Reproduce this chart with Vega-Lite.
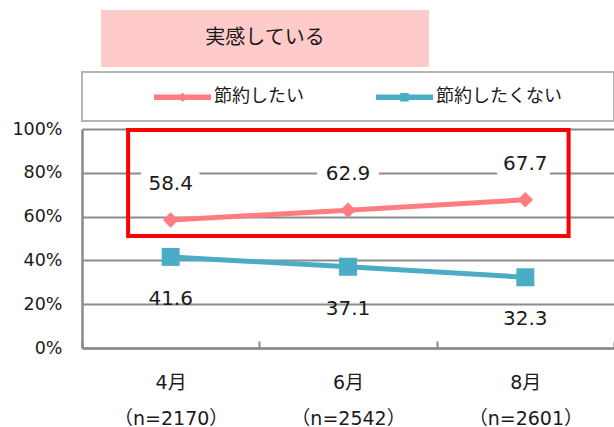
{
  "$schema": "https://vega.github.io/schema/vega-lite/v6.json",
  "padding": {"left": 11, "top": 10, "right": 0, "bottom": 0},
  "spacing": 4,
  "bounds": "full",
  "config": {
    "font": "DejaVu Sans",
    "view": {"stroke": null}
  },
  "datasets": {
    "main": [
      {"month": "4月|（n=2170）", "series": "節約したい", "value": 58.4},
      {"month": "6月|（n=2542）", "series": "節約したい", "value": 62.9},
      {"month": "8月|（n=2601）", "series": "節約したい", "value": 67.7},
      {"month": "4月|（n=2170）", "series": "節約したくない", "value": 41.6},
      {"month": "6月|（n=2542）", "series": "節約したくない", "value": 37.1},
      {"month": "8月|（n=2601）", "series": "節約したくない", "value": 32.3}
    ]
  },
  "vconcat": [
    {
      "bounds": "flush",
      "spacing": 18,
      "hconcat": [
        {"width": 1, "height": 57, "data": {"values": []}, "mark": "point", "view": {"stroke": null}},
        {
          "width": 328, "height": 57,
          "view": {"fill": "#ffcaca", "stroke": null},
          "data": {"values": [{"label": "実感している"}]},
          "mark": {"type": "text", "font": "Noto Sans CJK JP", "fontSize": 20, "color": "#1a1a1a", "align": "center", "baseline": "middle", "dy": -1},
          "encoding": {"text": {"field": "label", "type": "nominal"}}
        }
      ]
    },
    {
      "bounds": "flush",
      "spacing": 8,
      "vconcat": [
        {
          "width": 532, "height": 49,
          "view": {"fill": "white", "stroke": "#b4b4b4", "strokeWidth": 2},
          "data": {"values": []},
          "mark": "point"
        },
        {
          "width": 532, "height": 219,
          "view": {"stroke": "#d0d0d0", "strokeWidth": 1},
          "data": {"name": "main"},
          "resolve": {"scale": {"x": "independent"}},
          "layer": [
            {
              "layer": [
                {
                  "mark": {"type": "line", "strokeWidth": 5},
                  "encoding": {
                    "color": {
                      "field": "series", "type": "nominal",
                      "scale": {"domain": ["節約したい", "節約したくない"], "range": ["#ff7c80", "#4bacc6"]},
                      "legend": {
                        "title": null,
                        "orient": "none",
                        "legendX": 72,
                        "legendY": 58.5,
                        "direction": "horizontal",
                        "padding": 0,
                        "symbolSize": 3249,
                        "symbolStrokeWidth": 0,
                        "labelOffset": 3,
                        "columnPadding": 72,
                        "labelFont": "Noto Sans CJK JP",
                        "labelFontSize": 18,
                        "labelColor": "#1a1a1a",
                        "labelBaseline": "middle",
                        "encode": {
                          "symbols": {
                            "update": {
                              "shape": {"signal": "datum.value === '節約したい' ? 'M-1,-0.1H1V0.1H-1Z M0,-0.17L0.17,0L0,0.17L-0.17,0Z' : 'M-1,-0.1H1V0.1H-1Z M-0.15,-0.15H0.15V0.15H-0.15Z'"},
                              "fill": {"signal": "scale('color', datum.value)"},
                              "stroke": {"value": "transparent"},
                              "strokeWidth": {"value": 0},
                              "opacity": {"value": 1},
                              "size": {"value": 3249}
                            }
                          }
                        }
                      }
                    }
                  }
                },
                {
                  "transform": [{"filter": "datum.series === '節約したい'"}],
                  "mark": {"type": "point", "shape": "diamond", "filled": true, "size": 240, "opacity": 1},
                  "encoding": {"color": {"field": "series", "type": "nominal"}}
                },
                {
                  "transform": [{"filter": "datum.series === '節約したくない'"}],
                  "mark": {"type": "point", "shape": "square", "filled": true, "size": 324, "opacity": 1},
                  "encoding": {"color": {"field": "series", "type": "nominal"}}
                },
                {
                  "transform": [{"filter": "datum.series === '節約したい'"}],
                  "mark": {"type": "text", "fontSize": 20, "baseline": "alphabetic", "align": "center", "dy": -30, "fill": "white", "stroke": "white", "strokeWidth": 20, "strokeJoin": "round"},
                  "encoding": {"text": {"field": "value", "type": "quantitative", "format": ".1f"}}
                },
                {
                  "transform": [{"filter": "datum.series === '節約したい'"}],
                  "mark": {"type": "text", "fontSize": 20, "baseline": "alphabetic", "align": "center", "dy": -30, "color": "#1a1a1a"},
                  "encoding": {"text": {"field": "value", "type": "quantitative", "format": ".1f"}}
                },
                {
                  "transform": [{"filter": "datum.series === '節約したくない'"}],
                  "mark": {"type": "text", "fontSize": 20, "baseline": "alphabetic", "align": "center", "dy": 48, "color": "#1a1a1a"},
                  "encoding": {"text": {"field": "value", "type": "quantitative", "format": ".1f"}}
                }
              ],
              "encoding": {
                "x": {
                  "field": "month", "type": "nominal", "sort": null, "title": null,
                  "scale": {"type": "band", "paddingInner": 0, "paddingOuter": 0},
                  "axis": {
                    "labelExpr": "datum.value ? split(datum.value, '|') : ''",
                    "labelAngle": 0,
                    "labelFont": "DejaVu Sans, Noto Sans CJK JP",
                    "labelFontSize": 19,
                    "labelColor": "#1a1a1a",
                    "labelLineHeight": 36,
                    "labelPadding": 32,
                    "tickBand": "extent",
                    "tickSize": -7,
                    "tickColor": "#8a8a8a",
                    "tickWidth": 2,
                    "domainColor": "#8a8a8a",
                    "domainWidth": 2.5
                  }
                },
                "y": {
                  "field": "value", "type": "quantitative", "title": null,
                  "scale": {"domain": [0, 100], "nice": false},
                  "axis": {
                    "values": [0, 20, 40, 60, 80, 100],
                    "labelExpr": "datum.value + '%'",
                    "labelFontSize": 17.5,
                    "labelColor": "#1a1a1a",
                    "labelPadding": 20,
                    "ticks": false,
                    "domainColor": "#8a8a8a",
                    "domainWidth": 2.5,
                    "gridColor": "#8c8c8c",
                    "gridWidth": 1.8
                  }
                }
              }
            },
            {
              "data": {"values": [{"note": "highlight"}]},
              "mark": {"type": "rect", "fill": "transparent", "stroke": "#ff0000", "strokeWidth": 4, "clip": false},
              "encoding": {
                "x": {"datum": 0.26, "type": "quantitative", "scale": {"domain": [0, 3], "nice": false, "zero": false}, "axis": null},
                "x2": {"datum": 2.744},
                "y": {"datum": 99.6, "type": "quantitative"},
                "y2": {"datum": 51.1}
              }
            }
          ]
        }
      ]
    }
  ]
}
